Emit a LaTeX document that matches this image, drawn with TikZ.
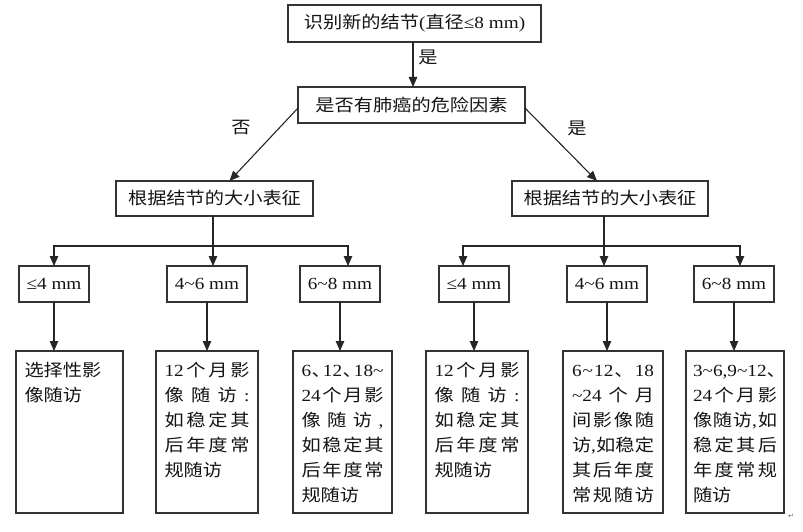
\documentclass[tikz,border=0pt]{standalone}
\usepackage{fontspec}
\setmainfont[FakeStretch=1.13]{Liberation Serif}
\newfontfamily\cjk[FakeStretch=1.13]{Noto Sans CJK SC}
\newfontfamily\lat[FakeStretch=1.13]{Liberation Serif}
\newfontfamily\dejavu{DejaVu Sans}
\usetikzlibrary{arrows.meta}
\def\gp{\hfil}
\def\tld{\textasciitilde}
\def\dun{{\cjk 、}\kern-8.5pt}
\newlength\lw
\def\lineN#1{\hbox to \lw{\vrule height15pt depth0pt width0pt #1\hfil}}
\def\lineS#1{\hbox to \lw{\vrule height15pt depth0pt width0pt #1}}
\def\btext#1#2{\lw=#1\relax\vbox to 162pt{\baselineskip=25pt\lineskiplimit=0pt\vskip 10.5pt #2\vfil}}
\begin{document}
\begin{tikzpicture}[x=1pt,y=-1pt,
  every node/.style={font=\cjk\fontsize{17}{25}\selectfont, text=black!92, inner sep=0pt, outer sep=0pt},
  box/.style={draw=black!80, line width=1.2pt},
  bigbox/.style={box, minimum height=162pt, anchor=north west},
  smallbox/.style={box, minimum height=36pt},
  arr/.style={draw=black!85, line width=1.1pt, -{Triangle[length=10pt,width=8.5pt]}},
  ln/.style={draw=black!85, line width=1.1pt}]
\fill[white] (0,0) rectangle (803,532);
\useasboundingbox (0,0) rectangle (803,532);

% top levels
\node[box, minimum width=253pt, minimum height=37pt] (A) at (414.5,23.5) {识别新的结节{\lat (}直径{\lat ≤8 mm)}};
\node[box, minimum width=227pt, minimum height=36pt] (B) at (411.5,105) {是否有肺癌的危险因素};
\node[box, minimum width=197pt, minimum height=35pt] (C) at (214.5,198.5) {根据结节的大小表征};
\node[box, minimum width=196pt, minimum height=35pt] (D) at (610,198.5) {根据结节的大小表征};

\draw[arr] ([xshift=-1.5pt]A.south) -- ([xshift=1.5pt]B.north);
\node (l1) at (428,57) {是};
\draw[arr] ([yshift=-3pt]B.west) -- ([xshift=15pt]C.north);
\draw[arr] ([yshift=-3pt]B.east) -- ([xshift=-13pt]D.north);
\node (l2) at (241,128) {否};
\node (l3) at (577,128) {是};

% size boxes
\node[smallbox, minimum width=70pt] (s1) at (54,284) {\lat ≤4 mm};
\node[smallbox, minimum width=80pt] (s2) at (207,284) {\lat 4\tld 6 mm};
\node[smallbox, minimum width=80pt] (s3) at (340,284) {\lat 6\tld 8 mm};
\node[smallbox, minimum width=70pt] (s4) at (474,284) {\lat ≤4 mm};
\node[smallbox, minimum width=80pt] (s5) at (607,284) {\lat 4\tld 6 mm};
\node[smallbox, minimum width=80pt] (s6) at (734,284) {\lat 6\tld 8 mm};

\coordinate (jL) at (213,246);
\draw[ln] (C.south -| jL) -- (jL);
\draw[arr] (jL) -- (jL |- s2.north);
\draw[arr] (jL) -| (s1.north);
\draw[arr] (jL) -| ([xshift=8pt]s3.north);

\coordinate (jR) at (604,246);
\draw[ln] (D.south -| jR) -- (jR);
\draw[arr] (jR) -- (jR |- s5.north);
\draw[arr] (jR) -| ([xshift=-11pt]s4.north);
\draw[arr] (jR) -| ([xshift=6pt]s6.north);

% result boxes
\node[bigbox, minimum width=107pt] (b1) at (16,351) {\btext{90pt}{%
  \lineN{选择性影}
  \lineN{像随访}}};
\node[bigbox, minimum width=102pt] (b2) at (156,351) {\btext{85pt}{%
  \lineS{{\lat 12}\gp 个\gp 月\gp 影}
  \lineS{像\gp 随\gp 访\gp{\lat :}}
  \lineS{如\gp 稳\gp 定\gp 其}
  \lineS{后\gp 年\gp 度\gp 常}
  \lineN{规随访}}};
\node[bigbox, minimum width=99pt] (b3) at (293,351) {\btext{82pt}{%
  \lineS{{\lat 6}\gp\dun\gp{\lat 12}\gp\dun\gp{\lat 18\tld}}
  \lineS{{\lat 24}\gp 个\gp 月\gp 影}
  \lineS{像\gp 随\gp 访\gp{\lat ,}}
  \lineS{如\gp 稳\gp 定\gp 其}
  \lineS{后\gp 年\gp 度\gp 常}
  \lineN{规随访}}};
\node[bigbox, minimum width=102pt] (b4) at (426,351) {\btext{85pt}{%
  \lineS{{\lat 12}\gp 个\gp 月\gp 影}
  \lineS{像\gp 随\gp 访\gp{\lat :}}
  \lineS{如\gp 稳\gp 定\gp 其}
  \lineS{后\gp 年\gp 度\gp 常}
  \lineN{规随访}}};
\node[bigbox, minimum width=100pt] (b5) at (563,351) {\btext{82pt}{%
  \lineS{{\lat 6\gp\tld\gp 12}\gp 、\gp{\lat 18}}
  \lineS{{\lat\tld 24}\gp 个\gp 月}
  \lineS{间\gp 影\gp 像\gp 随}
  \lineS{访{\lat ,}\gp 如\gp 稳\gp 定}
  \lineS{其\gp 后\gp 年\gp 度}
  \lineS{常\gp 规\gp 随\gp 访}}};
\node[bigbox, minimum width=98pt] (b6) at (686,351) {\btext{84pt}{%
  \lineN{{\lat 3\tld 6,9\tld 12}\dun}
  \lineS{{\lat 24}\gp 个\gp 月\gp 影}
  \lineS{像\gp 随\gp 访{\lat ,}\gp 如}
  \lineS{稳\gp 定\gp 其\gp 后}
  \lineS{年\gp 度\gp 常\gp 规}
  \lineN{随访}}};

\draw[arr] (s1.south) -- (s1.south |- b1.north);
\draw[arr] (s2.south) -- (s2.south |- b2.north);
\draw[arr] (s3.south) -- (s3.south |- b3.north);
\draw[arr] (s4.south) -- (s4.south |- b4.north);
\draw[arr] (s5.south) -- (s5.south |- b5.north);
\draw[arr] (s6.south) -- (s6.south |- b6.north);

\node[font=\dejavu\fontsize{7}{7}\selectfont, text=black!60] (ret) at (791,516) {↵};
\end{tikzpicture}
\end{document}
